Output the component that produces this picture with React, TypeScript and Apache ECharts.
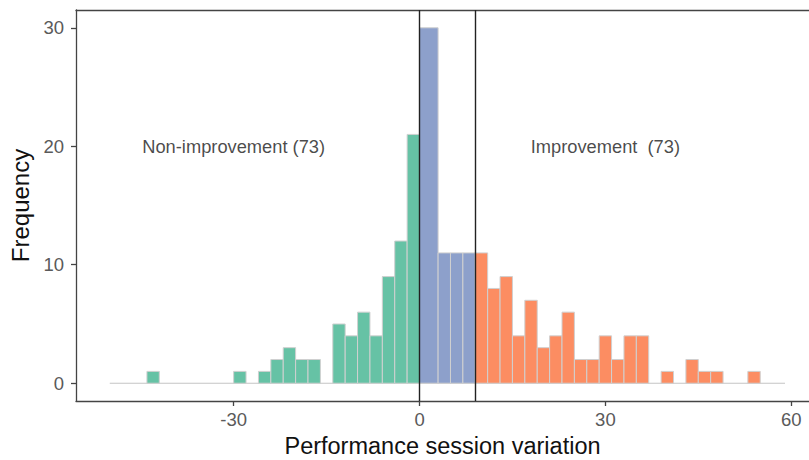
import React, { useEffect, useRef } from "react";
import * as echarts from "echarts";

// Histogram bins: [start, end, count]
const nonImprovementBins: number[][] = [
  [-50, -48, 0], [-48, -46, 0], [-46, -44, 0], [-44, -42, 1], [-42, -40, 0],
  [-40, -38, 0], [-38, -36, 0], [-36, -34, 0], [-34, -32, 0], [-32, -30, 0],
  [-30, -28, 1], [-28, -26, 0], [-26, -24, 1], [-24, -22, 2], [-22, -20, 3],
  [-20, -18, 2], [-18, -16, 2], [-16, -14, 0], [-14, -12, 5], [-12, -10, 4],
  [-10, -8, 6], [-8, -6, 4], [-6, -4, 9], [-4, -2, 12], [-2, 0, 21],
];
const middleBins: number[][] = [
  [0, 3, 30], [3, 5, 11], [5, 7, 11], [7, 9, 11],
];
const improvementBins: number[][] = [
  [9, 11, 11], [11, 13, 8], [13, 15, 9], [15, 17, 4], [17, 19, 7],
  [19, 21, 3], [21, 23, 4], [23, 25, 6], [25, 27, 2], [27, 29, 2],
  [29, 31, 4], [31, 33, 2], [33, 35, 4], [35, 37, 4], [37, 39, 0],
  [39, 41, 1], [41, 43, 0], [43, 45, 2], [45, 47, 1], [47, 49, 1],
  [49, 51, 0], [51, 53, 0], [53, 55, 1], [55, 57, 0], [57, 59, 0],
];
const cutoffs: number[] = [0, 9];
const xTicks: number[] = [-30, 0, 30, 60];
const yTicks: number[] = [0, 10, 20, 30];
const annotations: { x: number; y: number; text: string }[] = [
  { x: -30, y: 20, text: "Non-improvement (73)" },
  { x: 30, y: 20, text: "Improvement  (73)" },
];

const COLORS = { non: "#66c2a5", mid: "#8da0cb", imp: "#fc8d62" };

function histSeries(name: string, data: number[][], color: string) {
  return {
    type: "custom",
    name,
    data,
    encode: { x: [0, 1], y: 2 },
    renderItem: (params: any, api: any) => {
      const x0 = api.value(0);
      const x1 = api.value(1);
      const c = api.value(2);
      if (!c) return null;
      const p0 = api.coord([x0, c]);
      const p1 = api.coord([x1, 0]);
      return {
        type: "rect",
        shape: { x: p0[0], y: p0[1], width: p1[0] - p0[0], height: p1[1] - p0[1] },
        style: { fill: color, stroke: "#d0d0d0", lineWidth: 1 },
      };
    },
  };
}

export default function App() {
  const ref = useRef<HTMLDivElement>(null);
  useEffect(() => {
    if (!ref.current) return;
    const chart = echarts.init(ref.current, null, { renderer: "svg" });
    const allBins = [...nonImprovementBins, ...middleBins, ...improvementBins];
    const lo = Math.min(...allBins.map((b) => b[0]));
    const hi = Math.max(...allBins.map((b) => b[1]));
    const axisLine = { show: true, lineStyle: { color: "#444", width: 1.3 } };
    chart.setOption({
      animation: false,
      grid: { left: 76, right: 0, top: 10, bottom: 59, outerBoundsMode: "none", containLabel: false },
      xAxis: [
        {
          type: "value",
          min: -55.45,
          max: 62.87,
          splitLine: { show: false },
          axisLine: { ...axisLine, onZero: false },
          axisTick: { show: true, length: 5, customValues: xTicks, lineStyle: { color: "#444", width: 1.3 } },
          axisLabel: { customValues: xTicks, fontSize: 18.5, color: "#5a5a5a", margin: 9, fontFamily: "Liberation Sans" },
          name: "Performance session variation",
          nameLocation: "middle",
          nameGap: 25,
          nameTextStyle: { fontSize: 23.5, color: "#111", fontFamily: "Liberation Sans" },
        },
        {
          type: "value",
          position: "top",
          min: -55.45,
          max: 62.87,
          splitLine: { show: false },
          axisLine: { ...axisLine, onZero: false },
          axisTick: { show: false },
          axisLabel: { show: false },
        },
      ],
      yAxis: {
        type: "value",
        min: -1.5,
        max: 31.5,
        splitLine: { show: false },
        axisLine: { ...axisLine, onZero: false },
        axisTick: { show: true, length: 5, customValues: yTicks, lineStyle: { color: "#444", width: 1.3 } },
        axisLabel: { customValues: yTicks, fontSize: 18.5, color: "#5a5a5a", margin: 12, fontFamily: "Liberation Sans" },
        name: "Frequency",
        nameLocation: "middle",
        nameGap: 38,
        nameTextStyle: { fontSize: 24, color: "#111", fontFamily: "Liberation Sans" },
      },
      series: [
        {
          type: "line",
          data: [[lo, 0], [hi, 0]],
          symbol: "none",
          lineStyle: { color: "#c4c4c4", width: 1.2 },
          silent: true,
          z: 1,
        },
        histSeries("Non-improvement", nonImprovementBins, COLORS.non),
        histSeries("Middle", middleBins, COLORS.mid),
        {
          ...histSeries("Improvement", improvementBins, COLORS.imp),
          markLine: {
            silent: true,
            symbol: "none",
            label: { show: false },
            lineStyle: { color: "#222", width: 1.4, type: "solid" },
            data: cutoffs.map((c) => ({ xAxis: c })),
          },
        },
        {
          type: "scatter",
          data: annotations.map((a) => [a.x, a.y, a.text]),
          symbolSize: 0,
          silent: true,
          label: {
            show: true,
            position: "inside",
            formatter: (p: any) => p.data[2],
            fontSize: 18.3,
            color: "#1a1a1a",
            fontFamily: "Liberation Sans",
          },
        },
      ],
    });
    return () => chart.dispose();
  }, []);
  return (
    <div
      ref={ref}
      style={{ position: "fixed", left: 0, top: 0, width: 809, height: 460, background: "#fff" }}
    />
  );
}
